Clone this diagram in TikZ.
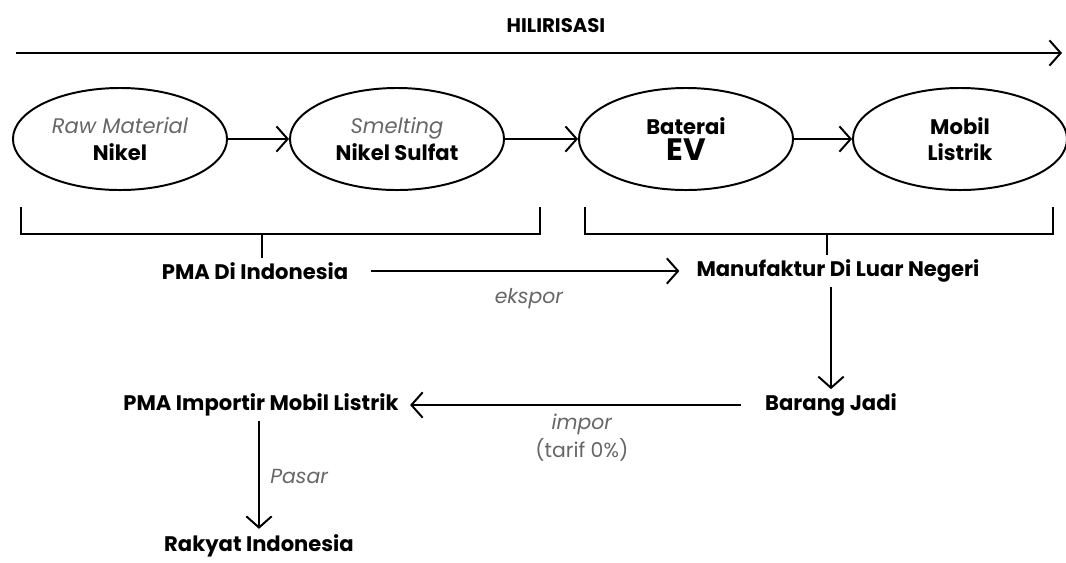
\documentclass[tikz,border=0pt]{standalone}
\usepackage{fontspec}
\setmainfont{Poppins}
\usetikzlibrary{positioning, shapes.geometric, arrows.meta}

\begin{document}
\begin{tikzpicture}[x=0.025cm, y=-0.025cm,
    stage/.style={ellipse, draw, line width=1.4pt, minimum width=5.35cm, minimum height=2.55cm, align=center, inner sep=0pt, font=\fontsize{15}{19}\selectfont},
    txt/.style={inner xsep=8pt, inner ysep=3pt, font=\bfseries\fontsize{15}{18}\selectfont},
    note/.style={font=\itshape\fontsize{14.5}{20}\selectfont, text=black!60},
    arrow/.style={-{Straight Barb[length=8pt, width=18pt]}, line width=1.4pt},
    brace/.style={line width=1.4pt}
]
    \useasboundingbox (0,0) rectangle (1066,562);

    % Hilirisasi arrow
    \node[font=\bfseries\fontsize{14}{16}\selectfont] (title) at (556,26) {HILIRISASI};
    \coordinate (hstart) at (16,53);
    \coordinate (hend) at (1062,53);
    \draw[arrow] (hstart) -- (hend);

    % Stages
    \node[stage] (nikel) at (120,139) {{\color{black!60}\itshape Raw Material}\\ \textbf{Nikel}};
    \node[stage] (sulfat) at (397,139) {{\color{black!60}\itshape Smelting}\\ \textbf{Nikel Sulfat}};
    \node[stage] (baterai) at (686,139) {\textbf{Baterai}\\ {\bfseries\fontsize{22}{19}\selectfont EV}};
    \node[stage] (mobil) at (960,139) {\textbf{Mobil}\\ \textbf{Listrik}};

    \draw[arrow] (nikel) -- (sulfat);
    \draw[arrow] (sulfat) -- (baterai);
    \draw[arrow] (baterai) -- (mobil);

    % Brackets
    \coordinate (b1l) at (21,207);
    \coordinate (b1r) at (540,207);
    \coordinate (b1m) at (262,234);
    \coordinate (b2l) at (585,207);
    \coordinate (b2r) at (1053,207);
    \coordinate (b2m) at (827,234);
    \draw[brace] (b1l) |- (b1m) -| (b1r);
    \draw[brace] (b2l) |- (b2m) -| (b2r);

    % Lower flow
    \node[txt] (pmaid) at (255,271) {PMA Di Indonesia};
    \node[txt] (manuf) at (838,271) {Manufaktur Di Luar Negeri};
    \node[txt] (barang) at (831,405) {Barang Jadi};
    \node[txt] (importir) at (261,405) {PMA Importir Mobil Listrik};
    \node[txt, inner ysep=1pt] (rakyat) at (259,546) {Rakyat Indonesia};

    \draw[brace] (b1m) -- (b1m |- pmaid.north);
    \draw[brace] (b2m) -- (b2m |- manuf.north);

    \draw[arrow, shorten <=8pt, shorten >=4pt] (pmaid) -- node[pos=0.52, below=8pt, note] {ekspor} (manuf);
    \draw[arrow] (barang |- manuf.south) -- (barang.north);
    \draw[arrow, shorten <=9pt] (barang) -- node[below=2pt, note, align=center] {impor\\ \upshape(tarif 0\%)} (importir);
    \draw[arrow, shorten >=3pt] (rakyat |- importir.south) -- node[right=4pt, note] {Pasar} (rakyat.north);
\end{tikzpicture}
\end{document}
